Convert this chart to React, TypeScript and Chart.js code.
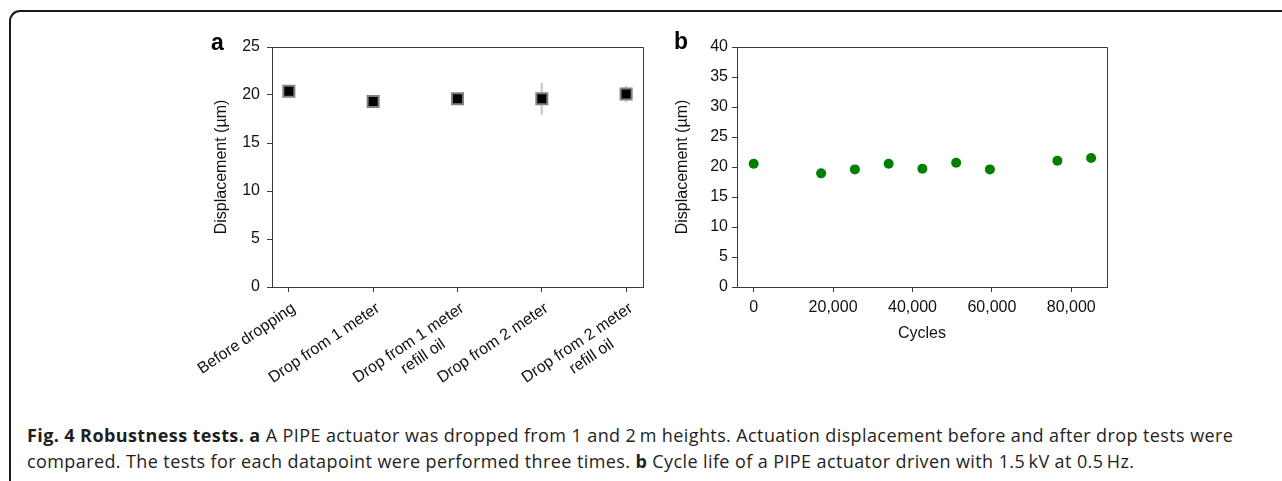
import React, { useEffect, useRef } from "react";
import { Chart, registerables } from "chart.js";

Chart.register(...registerables);

// ---- Panel a: drop tests ----
const dropCategories: string[][] = [
  ["Before dropping"],
  ["Drop from 1 meter"],
  ["Drop from 1 meter", "refill oil        "],
  ["Drop from 2 meter"],
  ["Drop from 2 meter", "refill oil        "],
];
const dropDisplacement = [20.4, 19.33, 19.6, 19.62, 20.1];
const dropError = [0.3, 0.3, 0.35, 1.67, 0.85];
const dropYTicks = [0, 5, 10, 15, 20, 25];

// ---- Panel b: cycle life ----
const cycleCounts = [0, 17000, 25500, 34000, 42500, 51000, 59500, 76500, 85000];
const cycleDisplacement = [20.55, 18.94, 19.6, 20.55, 19.7, 20.7, 19.6, 21.05, 21.5];
const cycleXTicks = [0, 20000, 40000, 60000, 80000];
const cycleYTicks = [0, 5, 10, 15, 20, 25, 30, 35, 40];

const FONT = "'Liberation Sans', Arial, Helvetica, sans-serif";
const FSIZE = 16;
const AXIS = "#3a3a3a";
const TEXT = "#111111";

const boxPlugin = {
  id: "boxFrame",
  afterDraw(chart: any) {
    const { ctx, chartArea } = chart;
    const { left, top, right, bottom } = chartArea;
    ctx.save();
    ctx.strokeStyle = AXIS;
    ctx.lineWidth = 1;
    ctx.beginPath();
    ctx.moveTo(Math.round(left), Math.round(top) + 0.5);
    ctx.lineTo(Math.round(right) + 0.5, Math.round(top) + 0.5);
    ctx.lineTo(Math.round(right) + 0.5, Math.round(bottom));
    ctx.stroke();
    ctx.restore();
  },
};

const errorBarPlugin = {
  id: "errorBars",
  beforeDatasetsDraw(chart: any) {
    const { ctx, scales } = chart;
    ctx.save();
    ctx.strokeStyle = "#cfcfcf";
    ctx.lineWidth = 2.5;
    dropDisplacement.forEach((v, i) => {
      const x = scales.x.getPixelForValue(i);
      const y1 = scales.y.getPixelForValue(v - dropError[i]);
      const y2 = scales.y.getPixelForValue(v + dropError[i]);
      ctx.beginPath();
      ctx.moveTo(x, y1);
      ctx.lineTo(x, y2);
      ctx.stroke();
    });
    ctx.restore();
  },
};

const gridOpts = {
  display: true,
  drawOnChartArea: false,
  drawTicks: true,
  tickLength: 5,
  color: AXIS,
  lineWidth: 1,
};

const font = { family: FONT, size: FSIZE };

export default function App() {
  const refA = useRef<HTMLCanvasElement>(null);
  const refB = useRef<HTMLCanvasElement>(null);

  useEffect(() => {
    const chartA = new Chart(refA.current as HTMLCanvasElement, {
      type: "scatter",
      data: {
        datasets: [
          {
            data: dropDisplacement.map((v, i) => ({ x: i, y: v })),
            pointStyle: "rect",
            pointRadius: 7.8,
            pointHoverRadius: 7.8,
            backgroundColor: "#000000",
            borderColor: "#808080",
            borderWidth: 2,
          },
        ],
      },
      options: {
        responsive: false,
        animation: false,
        layout: { padding: { top: 20, right: 17, left: 0, bottom: 0 } },
        plugins: { legend: { display: false }, tooltip: { enabled: false } },
        scales: {
          x: {
            type: "linear",
            min: -0.2,
            max: 4.2,
            afterBuildTicks: (axis: any) => {
              axis.ticks = dropCategories.map((_, i) => ({ value: i }));
            },
            afterFit: (axis: any) => {
              axis.height = 100;
            },
            grid: gridOpts,
            border: { display: true, color: AXIS },
            ticks: {
              autoSkip: false,
              minRotation: 34,
              maxRotation: 34,
              padding: 7,
              labelOffset: 5,
              color: TEXT,
              font,
              callback: (value: any) => dropCategories[value as number],
            },
          },
          y: {
            min: 0,
            max: 25,
            afterBuildTicks: (axis: any) => {
              axis.ticks = dropYTicks.map((v) => ({ value: v }));
            },
            afterFit: (axis: any) => {
              axis.width = 92;
            },
            grid: gridOpts,
            border: { display: true, color: AXIS },
            ticks: {
              padding: 7,
              color: TEXT,
              font,
            },
            title: {
              display: true,
              text: "Displacement (µm)",
              color: TEXT,
              font,
              padding: { top: 32, bottom: 0 },
            },
          },
        },
      },
      plugins: [errorBarPlugin, boxPlugin],
    } as any);

    const chartB = new Chart(refB.current as HTMLCanvasElement, {
      type: "scatter",
      data: {
        datasets: [
          {
            data: cycleCounts.map((c, i) => ({ x: c, y: cycleDisplacement[i] })),
            pointStyle: "circle",
            pointRadius: 5,
            pointHoverRadius: 5,
            backgroundColor: "#008000",
            borderColor: "#008000",
            borderWidth: 0,
          },
        ],
      },
      options: {
        responsive: false,
        animation: false,
        layout: { padding: { top: 20, right: 13, left: 0, bottom: 0 } },
        plugins: { legend: { display: false }, tooltip: { enabled: false } },
        scales: {
          x: {
            type: "linear",
            min: -4200,
            max: 89000,
            afterBuildTicks: (axis: any) => {
              axis.ticks = cycleXTicks.map((v) => ({ value: v }));
            },
            afterFit: (axis: any) => {
              axis.height = 70;
            },
            grid: gridOpts,
            border: { display: true, color: AXIS },
            ticks: {
              padding: 6,
              maxRotation: 0,
              minRotation: 0,
              color: TEXT,
              font,
              callback: (value: any) => Number(value).toLocaleString("en-US"),
            },
            title: {
              display: true,
              text: "Cycles",
              color: TEXT,
              font,
              padding: { top: 0, bottom: 14 },
            },
          },
          y: {
            min: 0,
            max: 40,
            afterBuildTicks: (axis: any) => {
              axis.ticks = cycleYTicks.map((v) => ({ value: v }));
            },
            afterFit: (axis: any) => {
              axis.width = 72;
            },
            grid: gridOpts,
            border: { display: true, color: AXIS },
            ticks: {
              padding: 4,
              color: TEXT,
              font,
            },
            title: {
              display: true,
              text: "Displacement (µm)",
              color: TEXT,
              font,
              padding: { top: 8, bottom: 0 },
            },
          },
        },
      },
      plugins: [boxPlugin],
    } as any);

    return () => {
      chartA.destroy();
      chartB.destroy();
    };
  }, []);

  const letterStyle: React.CSSProperties = {
    position: "absolute",
    fontFamily: FONT,
    fontWeight: "bold",
    fontSize: 23,
    lineHeight: 1,
    color: "#000",
  };

  return (
    <div
      style={{
        position: "absolute",
        left: 0,
        top: 0,
        width: 1282,
        height: 481,
        overflow: "hidden",
        background: "#ffffff",
      }}
    >
      <div
        style={{
          position: "absolute",
          left: 9,
          top: 10,
          width: 1400,
          height: 600,
          borderTop: "2.5px solid #1a1a1a",
          borderLeft: "2.5px solid #1a1a1a",
          borderTopLeftRadius: 11,
          boxSizing: "border-box",
        }}
      />
      <canvas
        ref={refA}
        width={480}
        height={360}
        style={{ position: "absolute", left: 180, top: 27, display: "block" }}
      />
      <canvas
        ref={refB}
        width={455}
        height={330}
        style={{ position: "absolute", left: 665, top: 27, display: "block" }}
      />
      <div style={{ ...letterStyle, left: 211, top: 31 }}>a</div>
      <div style={{ ...letterStyle, left: 674, top: 30 }}>b</div>
      <div
        style={{
          position: "absolute",
          left: 27,
          top: 422,
          fontFamily: "'Open Sans', sans-serif",
          fontSize: 18,
          letterSpacing: "0.4px",
          lineHeight: "26px",
          color: "#1e1e1e",
          whiteSpace: "nowrap",
        }}
      >
        <b>Fig. 4 Robustness tests.</b> <b>a</b> A PIPE actuator was dropped from 1 and 2{"\u2009"}m
        heights. Actuation displacement before and after drop tests were
        <br />
        compared. The tests for each datapoint were performed three times. <b>b</b> Cycle life of a
        PIPE actuator driven with 1.5{"\u2009"}kV at 0.5{"\u2009"}Hz.
      </div>
    </div>
  );
}
